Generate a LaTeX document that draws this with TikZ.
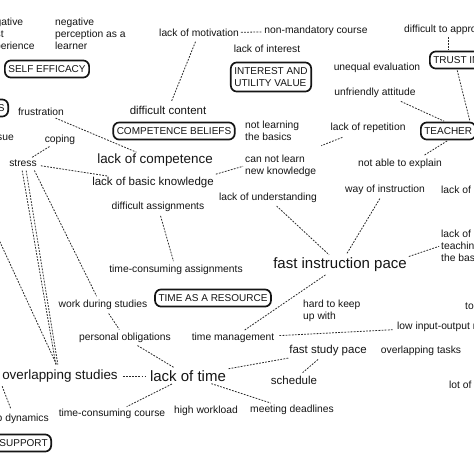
\documentclass[tikz,border=0pt]{standalone}
\usepackage{fontspec}
\setmainfont{Liberation Sans}
\usepackage{tikz}
\usetikzlibrary{positioning,calc}
\definecolor{Ink}{HTML}{151515}
\definecolor{Wire}{HTML}{2A2A2A}

\begin{document}
\begin{tikzpicture}[x=1pt,y=-1pt,
    lbl/.style={font=\fontsize{10.3}{12}\selectfont,text=Ink,inner sep=1pt},
    lblm/.style={font=\fontsize{11.5}{13}\selectfont,text=Ink,inner sep=1pt},
    lbll/.style={font=\fontsize{13.4}{15}\selectfont,text=Ink,inner sep=1pt},
    lblxl/.style={font=\fontsize{15}{17}\selectfont,text=Ink,inner sep=1pt},
    concept/.style={draw=Ink,line width=1.7pt,rounded corners=6pt,
      font=\fontsize{10}{12}\selectfont,text=Ink,inner xsep=3.5pt,inner ysep=5pt},
    link/.style={draw=Wire,line width=0.8pt,dash pattern=on 1.8pt off 1.3pt,
      shorten <=1pt,shorten >=1pt}]
        \useasboundingbox (0,0) rectangle (474,474);
        \fill[white] (0,0) rectangle (474,474);
        \clip (0,0) rectangle (474,474);

        % top row
        \node[lbl,align=left,anchor=west] (pastexp) at (-17,35) {negative\\past\\experience};
        \node[lbl,align=left,anchor=west] (perception) at (54,34) {negative\\perception as a\\learner};
        \node[concept] (selfeff) at (47,69) {SELF EFFICACY};
        \node[lbl] (motiv) at (199,33) {lack of motivation};
        \node[lbl] (nonmand) at (316,31) {non-mandatory course};
        \node[lbl,anchor=west] (approach) at (403,30) {difficult to approach};
        \node[lbl] (interest) at (267,49) {lack of interest};
        \node[concept,align=left] (utility) at (271,77) {INTEREST AND\\UTILITY VALUE};
        \node[lbl] (unequal) at (377,68) {unequal evaluation};
        \node[concept,anchor=west] (trust) at (429,60) {TRUST IN TEACHER};
        \node[lbl] (unfriendly) at (375,93) {unfriendly attitude};
        \node[concept,anchor=west] (teacher) at (420,131) {TEACHER};

        % competence
        \node[concept,text width=60pt,align=right,anchor=east] (emotions) at (9,108) {S};
        \node[lbl] (frustration) at (41,112) {frustration};
        \node[lblm] (diffcontent) at (168,110) {difficult content};
        \node[concept] (competence) at (174,131) {COMPETENCE BELIEFS};
        \node[lbl,align=left,anchor=west] (notlearn) at (244,131) {not learning\\the basics};
        \node[lbl] (repetition) at (368,128) {lack of repetition};
        \node[lbl,anchor=east] (issue) at (15,137) {issue};
        \node[lbl] (coping) at (60,140) {coping};
        \node[lbll] (lackcomp) at (155,160) {lack of competence};
        \node[lbl,align=left,anchor=west] (canlearn) at (244,166) {can not learn\\new knowledge};
        \node[lbl] (noexplain) at (400,164) {not able to explain};
        \node[lbl] (stress) at (23,163) {stress};
        \node[lblm] (basicknow) at (153,183) {lack of basic knowledge};
        \node[lbl] (waying) at (385,190) {way of instruction};
        \node[lbl,anchor=west] (lackof) at (440,190) {lack of};
        \node[lbl] (understanding) at (268,198) {lack of understanding};
        \node[lbl] (diffassign) at (158,207) {difficult assignments};

        % time
        \node[lbl,align=left,anchor=west] (teachbasics) at (440,246) {lack of\\teaching\\the basics};
        \node[lblxl] (fastinstr) at (340,265) {fast instruction pace};
        \node[lbl] (timeassign) at (176,270) {time-consuming assignments};
        \node[concept] (timeres) at (213,298) {TIME AS A RESOURCE};
        \node[lbl] (workstud) at (103,305) {work during studies};
        \node[lbl,align=left,anchor=west] (hardkeep) at (302,311) {hard to keep\\up with};
        \node[lbl,anchor=west] (toleft) at (464,306) {to};
        \node[lbl,anchor=west] (lowio) at (396,327) {low input-output ratio};
        \node[lbl] (personal) at (125,338) {personal obligations};
        \node[lbl] (timemgmt) at (233,338) {time management};
        \node[lblm] (faststudy) at (328,351) {fast study pace};
        \node[lbl] (overlaptasks) at (421,351) {overlapping tasks};
        \node[lbll] (overlapstud) at (60,376) {overlapping studies};
        \node[lblxl] (lacktime) at (188,376) {lack of time};
        \node[lblm] (schedule) at (294,380) {schedule};
        \node[lbl,anchor=west] (lotof) at (448,385) {lot of};
        \node[lbl] (workload) at (206,411) {high workload};
        \node[lbl] (deadlines) at (292,410) {meeting deadlines};
        \node[lbl] (tccourse) at (112,414) {time-consuming course};
        \node[lbl,anchor=east] (groupdyn) at (50,419) {group dynamics};
        \node[concept,text width=70pt,align=right,anchor=east] (support) at (52,443) {SUPPORT};
        \coordinate (offwest) at (-24,190);

        % links
        \draw[link] (motiv) -- (nonmand);
        \draw[link] (approach.south) -- (approach.south |- trust.north);
        \draw[link] ($(trust.south west)+(28,0)$) -- ($(teacher.north west)+(50,0)$);
        \draw[link] ($(unfriendly.south)+(25,2)$) -- ($(teacher.north west)+(25,0)$);
        \draw[link] ($(teacher.south west)+(28,0)$) -- ($(noexplain.north east)+(-20,-2)$);
        \draw[link] ($(repetition.south west)+(14,3)$) -- ($(canlearn.north east)+(3,-8)$);
        \draw[link,shorten <=4pt,shorten >=4pt] (motiv) -- (diffcontent);
        \draw[link,shorten <=3pt] (frustration) -- (lackcomp);
        \draw[link] (coping) -- (stress);
        \draw[link,shorten <=3pt,shorten >=3pt] (stress) -- (basicknow);
        \draw[link] ($(basicknow.north east)+(0,-2)$) -- (canlearn.west);
        \draw[link,shorten <=3pt,shorten >=3pt] (diffassign) -- (timeassign);
        \draw[link,shorten <=3pt,shorten >=3pt] (understanding) -- (fastinstr);
        \draw[link,shorten <=3pt,shorten >=3pt] (waying) -- (fastinstr);
        \draw[link] (fastinstr.north east) -- (teachbasics.west);
        \draw[link,shorten <=3pt,shorten >=3pt] (fastinstr) -- (timemgmt);
        \draw[link,shorten <=3pt,shorten >=3pt] (workstud) -- (personal);
        \draw[link,shorten <=4pt,shorten >=3pt] (timemgmt) -- (lowio);
        \draw[link,shorten <=3pt,shorten >=3pt] (faststudy) -- (schedule);
        \draw[link,shorten <=4pt,shorten >=4pt] (overlapstud) -- (lacktime);
        \draw[link,shorten <=3pt,shorten >=3pt] (personal) -- (lacktime);
        \draw[link,shorten <=3pt,shorten >=3pt] (lacktime) -- (faststudy);
        \draw[link,shorten <=3pt,shorten >=3pt] (lacktime) -- (tccourse);
        \draw[link,shorten <=3pt,shorten >=3pt] (lacktime) -- (deadlines);
        \draw[link] ($(stress.south)+(-1,2)$) -- ($(overlapstud.north)+(-4,-3)$);
        \draw[link] ($(stress.south)+(3,2)$) -- ($(overlapstud.north)+(-2,-3)$);
        \draw[link] ($(stress.south east)+(-4,2)$) -- ($(workstud.north)+(-6,-2)$);
        \draw[link] (offwest) -- ($(overlapstud.north)+(-3,-3)$);
        \draw[link,shorten <=3pt,shorten >=4pt] (overlapstud.south west) -- (groupdyn.north);
      \end{tikzpicture}
\end{document}
